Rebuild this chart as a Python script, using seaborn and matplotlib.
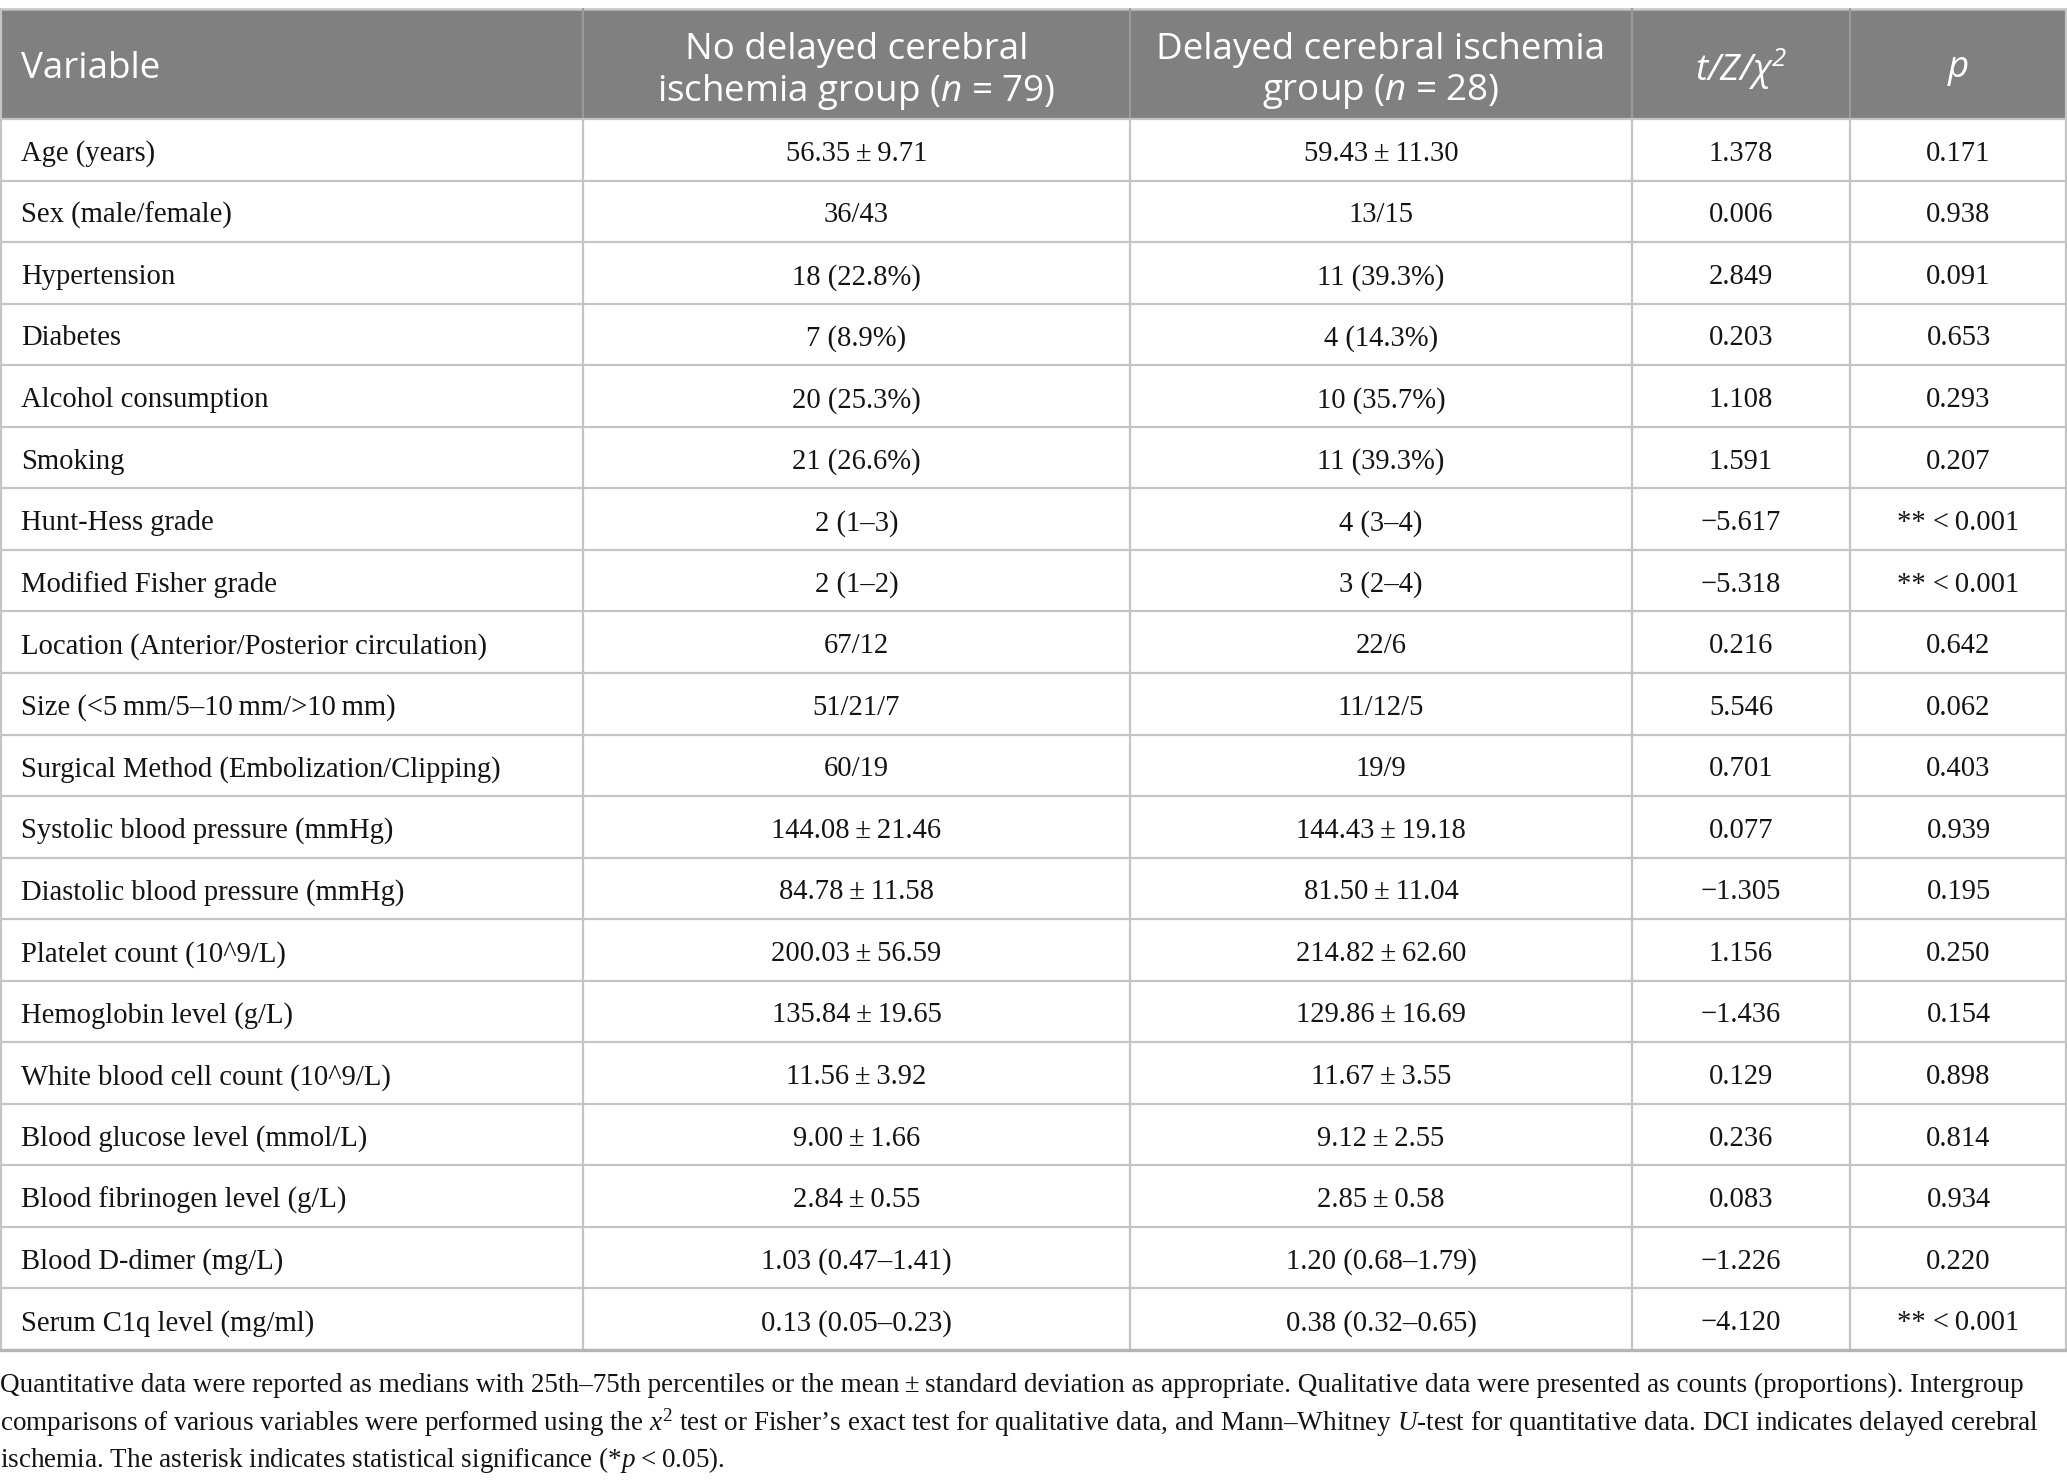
import matplotlib
matplotlib.use("Agg")
import matplotlib.pyplot as plt
import seaborn as sns

# ---- table content ----
variables = [
    "Age (years)",
    "Sex (male/female)",
    "Hypertension",
    "Diabetes",
    "Alcohol consumption",
    "Smoking",
    "Hunt-Hess grade",
    "Modified Fisher grade",
    "Location (Anterior/Posterior circulation)",
    "Size (<5\u2009mm/5\u201310\u2009mm/>10\u2009mm)",
    "Surgical Method (Embolization/Clipping)",
    "Systolic blood pressure (mmHg)",
    "Diastolic blood pressure (mmHg)",
    "Platelet count (10^9/L)",
    "Hemoglobin level (g/L)",
    "White blood cell count (10^9/L)",
    "Blood glucose level (mmol/L)",
    "Blood fibrinogen level (g/L)",
    "Blood D-dimer (mg/L)",
    "Serum C1q level (mg/ml)",
]
pm = "\u2009\u00b1\u2009"
no_dci = [
    "56.35" + pm + "9.71", "36/43", "18 (22.8%)", "7 (8.9%)", "20 (25.3%)",
    "21 (26.6%)", "2 (1\u20133)", "2 (1\u20132)", "67/12", "51/21/7", "60/19",
    "144.08" + pm + "21.46", "84.78" + pm + "11.58", "200.03" + pm + "56.59",
    "135.84" + pm + "19.65", "11.56" + pm + "3.92", "9.00" + pm + "1.66",
    "2.84" + pm + "0.55", "1.03 (0.47\u20131.41)", "0.13 (0.05\u20130.23)",
]
dci = [
    "59.43" + pm + "11.30", "13/15", "11 (39.3%)", "4 (14.3%)", "10 (35.7%)",
    "11 (39.3%)", "4 (3\u20134)", "3 (2\u20134)", "22/6", "11/12/5", "19/9",
    "144.43" + pm + "19.18", "81.50" + pm + "11.04", "214.82" + pm + "62.60",
    "129.86" + pm + "16.69", "11.67" + pm + "3.55", "9.12" + pm + "2.55",
    "2.85" + pm + "0.58", "1.20 (0.68\u20131.79)", "0.38 (0.32\u20130.65)",
]
stat = [
    "1.378", "0.006", "2.849", "0.203", "1.108", "1.591", "\u22125.617",
    "\u22125.318", "0.216", "5.546", "0.701", "0.077", "\u22121.305", "1.156",
    "\u22121.436", "0.129", "0.236", "0.083", "\u22121.226", "\u22124.120",
]
pval = [
    "0.171", "0.938", "0.091", "0.653", "0.293", "0.207", "** <\u20090.001",
    "** <\u20090.001", "0.642", "0.062", "0.403", "0.939", "0.195", "0.250",
    "0.154", "0.898", "0.814", "0.934", "0.220", "** <\u20090.001",
]
headers = [
    ["Variable"],
    ["No delayed cerebral", r"ischemia group ($\mathbf{n}$ = 79)"],
    ["Delayed cerebral ischemia", r"group ($\mathbf{n}$ = 28)"],
    [r"$\mathbf{t/Z/\chi^2}$"],
    [r"$\mathbf{p}$"],
]
footnote = [
    "Quantitative data were reported as medians with 25th\u201375th percentiles or the mean\u2009\u00b1\u2009standard deviation as appropriate. Qualitative data were presented as counts (proportions). Intergroup",
    "comparisons of various variables were performed using the $x^2$ test or Fisher\u2019s exact test for qualitative data, and Mann\u2013Whitney $U$-test for quantitative data. DCI indicates delayed cerebral",
    "ischemia. The asterisk indicates statistical significance (*$p$\u2009<\u20090.05).",
]

sns.set_theme(style="white")
plt.rcParams["mathtext.fontset"] = "custom"
plt.rcParams["mathtext.rm"] = "Liberation Serif"
plt.rcParams["mathtext.it"] = "Liberation Serif:italic"
plt.rcParams["mathtext.bf"] = "Open Sans:italic"
plt.rcParams["mathtext.sf"] = "Open Sans"

W, H = 2067, 1484
fig = plt.figure(figsize=(W / 100, H / 100), dpi=100)
ax = fig.add_axes([0, 0, 1, 1])
ax.set_xlim(0, W)
ax.set_ylim(H, 0)
ax.axis("off")

col_edges = [0, 583, 1130, 1632, 1850, W]
head_top, head_bot = 9, 119
row_h = 61.55
n_rows = len(variables)
table_bot = head_bot + n_rows * row_h

header_gray = "#7f807f"
grid_gray = "#c4c4c4"
text_col = "#141414"
serif = "Liberation Serif"
sans = "Open Sans"

# header band
ax.add_patch(plt.Rectangle((0, head_top), W, head_bot - head_top,
                           facecolor=header_gray, edgecolor="none", zorder=1))
ax.plot([0, W], [head_top - 0.5, head_top - 0.5], color=grid_gray, lw=1.8, zorder=2)
for xe in col_edges[1:-1]:
    ax.plot([xe, xe], [head_top, head_bot], color="#9a9a9a", lw=1.6, zorder=2)
    ax.plot([xe, xe], [head_bot, table_bot], color=grid_gray, lw=1.6, zorder=2)
for xe in (col_edges[0] + 0.8, col_edges[-1] - 0.8):
    ax.plot([xe, xe], [head_top, table_bot], color=grid_gray, lw=1.6, zorder=2)
for i in range(n_rows):
    y = head_bot + i * row_h
    ax.plot([0, W], [y, y], color=grid_gray, lw=1.6, zorder=2)
ax.plot([0, W], [table_bot, table_bot], color="#b4b4b4", lw=2.4, zorder=2)

# header text
head_mid = (head_top + head_bot) / 2
line_gap = 41
for c, lines in enumerate(headers):
    if c == 0:
        x, ha = 21, "left"
    else:
        x, ha = (col_edges[c] + col_edges[c + 1]) / 2, "center"
    k = len(lines)
    shift = 1.8 if k > 1 else 0
    for j, s in enumerate(lines):
        y = head_mid + shift + (j - (k - 1) / 2) * line_gap
        ax.text(x, y, s, ha=ha, va="center_baseline", color="white",
                fontsize=26.5, family=sans, zorder=3)

# body
columns = [variables, no_dci, dci, stat, pval]
for c, vals in enumerate(columns):
    for i, s in enumerate(vals):
        y = head_bot + (i + 0.5) * row_h + 1
        if c == 0:
            x, ha = 21, "left"
        else:
            x, ha = (col_edges[c] + col_edges[c + 1]) / 2, "center"
        ax.text(x, y, s, ha=ha, va="center_baseline", color=text_col,
                fontsize=20.6, family=serif, zorder=3)

# footnote
for j, s in enumerate(footnote):
    ax.text(0, 1382 + j * 36.9, s, ha="left", va="center_baseline",
            color=text_col, fontsize=19.5, family=serif)

fig.savefig("out.png", dpi=100, facecolor="white")
